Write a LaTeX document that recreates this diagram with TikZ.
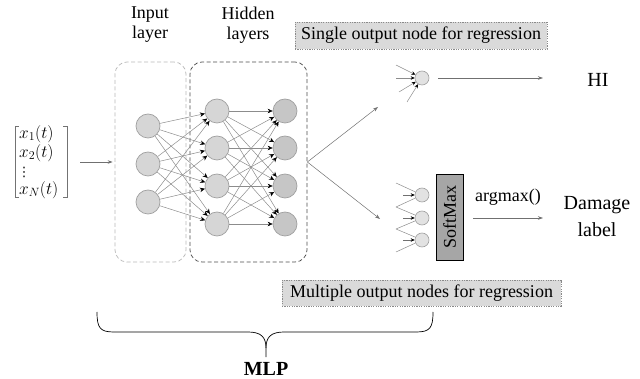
\documentclass[tikz,border=0pt]{standalone}
\usepackage{fontspec}
\setmainfont{Liberation Serif}
\newfontfamily\djv{DejaVu Sans}
\usetikzlibrary{arrows.meta}
\newcommand{\myfs}[2]{\fontsize{#1}{#2}\selectfont}
\definecolor{nfill}{HTML}{D6D6D6}
\definecolor{nfill2}{HTML}{C6C6C6}
\definecolor{nbord}{HTML}{A0A0A0}
\definecolor{ofill}{HTML}{E2E2E2}
\definecolor{lgray}{HTML}{8C8C8C}
\definecolor{dgray}{HTML}{707070}
\definecolor{boxfill}{HTML}{DADADA}
\definecolor{boxbord}{HTML}{8A8A8A}
\definecolor{smfill}{HTML}{A6A6A6}
\tikzset{
 neuron/.style={circle, draw=nbord, fill=nfill, minimum size=24pt, inner sep=0pt, line width=0.7pt},
 dneuron/.style={neuron, fill=nfill2},
 onode/.style={circle, draw=nbord, fill=ofill, minimum size=14pt, inner sep=0pt, line width=0.6pt},
 link/.style={draw=lgray, line width=0.5pt, -{Stealth[length=5pt,width=4.5pt,black]}},
 plainlink/.style={draw=lgray, line width=0.5pt},
 garrow/.style={draw=dgray, line width=0.6pt, -{Stealth[length=5pt,width=3.5pt]}},
 lbox/.style={draw=boxbord, fill=boxfill, line width=0.6pt, dash pattern=on 1.2pt off 1.2pt, inner sep=0pt, font={\myfs{18}{20}}},
 txt/.style={inner sep=0pt, font={\myfs{18}{20}}, align=center},
 vtxt/.style={anchor=west, inner sep=0pt, font={\myfs{17}{20}}},
 layerbox/.style={rounded corners=12pt, dash pattern=on 4pt off 2.5pt, line width=0.7pt, inner sep=0pt}
}
\begin{document}
\begin{tikzpicture}[x=1pt,y=-1pt]
\useasboundingbox (0,0) rectangle (640,379);

% layer boxes
\node[layerbox, draw=gray!55, minimum width=71pt, minimum height=200pt] (inbox) at (150.5,162) {};
\node[layerbox, draw=black!70, minimum width=117pt, minimum height=200pt] (hidbox) at (248.5,162) {};

% titles
\node[txt] (tin) at (150,25) {Input\\layer};
\node[txt] (thid) at (248,25) {Hidden\\layers};

% neurons
\foreach \y [count=\i] in {126,164,202} \node[neuron] (i\i) at (148,\y) {};
\foreach \y [count=\i] in {111,148,186,224} \node[neuron] (h\i) at (217,\y) {};
\foreach \y [count=\i] in {111,148,186,224} \node[dneuron] (g\i) at (285,\y) {};
\foreach \a in {1,2,3} \foreach \b in {1,...,4} \draw[link] (i\a) -- (h\b);
\foreach \a in {1,...,4} \foreach \b in {1,...,4} \draw[link] (h\a) -- (g\b);

% input vector
\node[minimum width=52pt, minimum height=70pt, inner sep=0pt] (vec) at (41,162) {};
\draw[line width=0.6pt, draw=gray!90!black] ([xshift=4pt]vec.north west) -- (vec.north west) -- (vec.south west) -- ([xshift=4pt]vec.south west);
\draw[line width=0.6pt, draw=gray!90!black] ([xshift=-4pt]vec.north east) -- (vec.north east) -- (vec.south east) -- ([xshift=-4pt]vec.south east);
\node[vtxt] (x1) at (19,134) {$x_1(t)$};
\node[vtxt] (x2) at (19,153) {$x_2(t)$};
\node[vtxt, font={\djv\myfs{13}{13}}] (xd) at (17.5,172) {⋮};
\node[vtxt] (xn) at (19,190) {$x_N(t)$};
\draw[garrow, shorten <=13pt, shorten >=2pt] (vec.east |- inbox.west) -- (inbox.west);

% outputs from hidden block
\coordinate (oup) at (378,107);
\coordinate (odn) at (380,219);
\draw[garrow, line width=0.5pt] (hidbox.east) -- (oup);
\draw[garrow, line width=0.5pt] (hidbox.east) -- (odn);

% single output node
\node[onode] (so) at (422,78) {};
\coordinate (sa) at (396,65);
\coordinate (sb) at (396,78);
\coordinate (sc) at (399,92);
\coordinate (sd) at (407,102);
\foreach \c in {sa,sb,sc,sd} \draw[link, -{Stealth[length=4pt,width=3.5pt,black]}] (\c) -- (so);
\node[txt, font={\myfs{20}{24}}] (hi) at (598,80) {HI};
\coordinate (hiend) at (543,78);
\draw[garrow, shorten <=9pt] (so.east) -- (hiend);

% multiple output nodes
\foreach \y [count=\i] in {195,218,240} \node[onode] (m\i) at (422,\y) {};
\coordinate (ma) at (396,183);
\coordinate (mb) at (396,207);
\coordinate (mc) at (396,229);
\coordinate (md) at (396,252);
\draw[plainlink] (ma) -- (m1); \draw[plainlink] (mb) -- (m1);
\draw[plainlink] (mb) -- (m2); \draw[plainlink] (mc) -- (m2);
\draw[plainlink] (mc) -- (m3); \draw[plainlink] (md) -- (m3);
\foreach \y [count=\i] in {195,218,240} {
  \coordinate (mh\i) at (403,\y);
  \draw[link, draw=dgray, -{Stealth[length=4pt,width=3.5pt,black]}] (mh\i) -- (m\i);
}

% softmax
\node[draw=black, fill=smfill, line width=0.7pt, minimum width=27pt, minimum height=86pt, inner sep=0pt] (sm) at (449.5,217) {};
\node[rotate=90, inner sep=0pt, font={\myfs{18}{20}}] (smt) at (sm.center) {SoftMax};
\coordinate (amend) at (543,218);
\draw[garrow, shorten <=10pt] (sm.east |- amend) -- (amend);
\node[txt] (am) at (508,197) {argmax()};
\node[txt, font={\myfs{20}{27}}] (dl) at (597,217) {Damage\\label};

% label boxes
\node[lbox, minimum width=252pt, minimum height=27pt] (single) at (421,35.5) {Single output node for regression};
\node[lbox, minimum width=279pt, minimum height=26pt] (multi) at (421.5,293) {Multiple output nodes for regression};

% brace
\draw[line width=0.7pt] (97,312) .. controls (97,328) and (100,332) .. (114,332) -- (248,332)
  .. controls (261,332) and (266,337) .. (266,348) -- (266,357);
\draw[line width=0.7pt] (433,312) .. controls (433,328) and (430,332) .. (416,332) -- (284,332)
  .. controls (271,332) and (266,337) .. (266,348);
\node[inner sep=0pt, font={\myfs{20}{22}\bfseries}] (mlp) at (266,369) {MLP};
\end{tikzpicture}
\end{document}
